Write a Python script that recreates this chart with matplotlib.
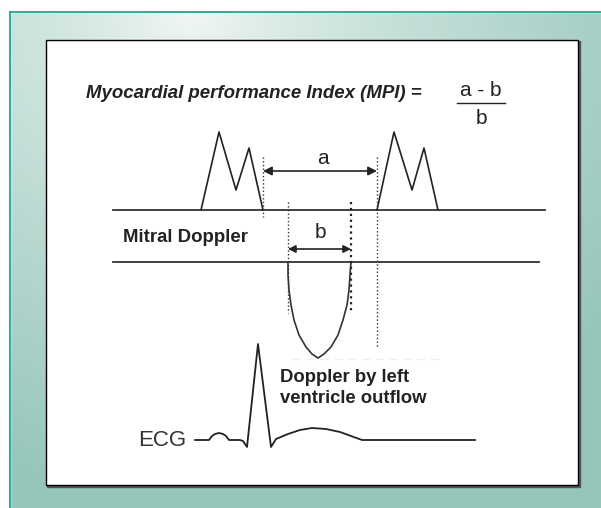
import numpy as np
import matplotlib.pyplot as plt
from matplotlib.patches import Rectangle

plt.rcParams['font.family'] = ['Liberation Sans', 'DejaVu Sans']

# Diagram geometry (pixel units of a 601 x 508 picture, y downwards)
mitral_base_y = 210
outflow_base_y = 262

# Mitral inflow E/A waves (left and right cycles)
mitral_left_x = [201, 219, 236, 249, 263]
mitral_right_x = [377, 394, 412, 424, 438]
mitral_y = [210, 132, 190, 148, 210]

# Left ventricle outflow curve
outflow_x = [288, 288, 289, 291, 294, 299, 306, 312, 318,
             324, 331, 338, 343, 347, 349, 350, 351]
outflow_y = [262, 275, 290, 305, 320, 335, 347, 354, 358,
             354, 347, 335, 320, 305, 290, 275, 262]

# ECG trace
ecg_x = [195, 209, 212, 215, 219, 223, 226, 229, 240, 243, 247, 258, 271,
         276, 288, 300, 312, 326, 340, 362, 475]
ecg_y = [440, 440, 436, 434, 433, 434, 436, 440, 440, 441, 447, 344, 447,
         439, 434, 430, 428, 429, 432, 440, 440]

# interval markers
a_start, a_end, a_y = 263, 377, 171
b_start, b_end, b_y = 288, 351, 249

fig = plt.figure(figsize=(6.01, 5.08), dpi=100)
ax = fig.add_axes([0, 0, 1, 1])
ax.set_xlim(0, 601)
ax.set_ylim(508, 0)
ax.axis('off')

# gradient background
W, H = 601, 508
xx, yy = np.meshgrid(np.linspace(0, W, 200), np.linspace(0, H, 170))
d = np.sqrt((xx - 190) ** 2 + ((yy - 10) * 1.1) ** 2)
t = np.clip(d / 540, 0, 1) ** 0.75
c0 = np.array([244, 248, 247]) / 255
c1 = np.array([150, 198, 186]) / 255
img = c0[None, None, :] * (1 - t[..., None]) + c1[None, None, :] * t[..., None]
left = np.clip(1 - xx / 120, 0, 1)[..., None] * np.clip(1 - yy / 200, 0, 1)[..., None]
img = img * (1 - 0.25 * left) + (np.array([205, 228, 224]) / 255) * 0.25 * left
ax.imshow(img, extent=(0, W, H, 0), aspect='auto', zorder=0)

ax.add_patch(Rectangle((0, 0), 601, 12, color='white', zorder=1))
ax.add_patch(Rectangle((0, 0), 10, 508, color='white', zorder=1))
ax.plot([10, 601], [12, 12], color='#23a48c', lw=1.3, zorder=2)
ax.plot([10, 10], [12, 508], color='#23a48c', lw=1.3, zorder=2)

# inner panel with shadow
ax.add_patch(Rectangle((47, 41), 533, 446, color='#555555', zorder=2))
ax.add_patch(Rectangle((46, 40), 532, 445, facecolor='white',
                       edgecolor='black', lw=1.0, zorder=3))

lc = '#222222'
# baselines
ax.plot([113, 545], [mitral_base_y, mitral_base_y], color='#333333', lw=1.3, zorder=4)
ax.plot([113, 539], [outflow_base_y, outflow_base_y], color='#333333', lw=1.3, zorder=4)

# mitral waves
ax.plot(mitral_left_x, mitral_y, color=lc, lw=1.2, zorder=5)
ax.plot(mitral_right_x, mitral_y, color=lc, lw=1.2, zorder=5)

# outflow
ax.plot(outflow_x, outflow_y, color='#333333', lw=1.2, zorder=5)
ax.plot([292, 443], [359, 359], color='#f0f0f0', lw=1.0, ls=(0, (6, 4)), zorder=4)

# dotted markers
ax.plot([a_start, a_start], [157, 217], color='#333333', lw=1.0, ls=':', zorder=5)
ax.plot([a_end, a_end], [157, 347], color='#333333', lw=1.0, ls=':', zorder=5)
ax.plot([b_start, b_start], [202, 313], color='#333333', lw=1.0, ls=':', zorder=5)
ax.plot([b_end, b_end], [202, 313], color='#222222', lw=1.6, ls=':', zorder=5)

# arrows
ax.annotate('', xy=(a_end, a_y), xytext=(a_start, a_y),
            arrowprops=dict(arrowstyle='<|-|>', color=lc, lw=1.2,
                            mutation_scale=13, shrinkA=0, shrinkB=0), zorder=6)
ax.annotate('', xy=(b_end, b_y), xytext=(b_start, b_y),
            arrowprops=dict(arrowstyle='<|-|>', color=lc, lw=1.2,
                            mutation_scale=11, shrinkA=0, shrinkB=0), zorder=6)
ax.text(323, 159, 'a', fontsize=15, ha='center', va='center', color=lc, zorder=6)
ax.text(320, 232, 'b', fontsize=15, ha='center', va='center', color=lc, zorder=6)

# ECG
ax.plot(ecg_x, ecg_y, color=lc, lw=1.3, zorder=5)
ax.text(186, 440, 'ECG', fontsize=16, ha='right', va='center', color='#333333', zorder=6)

# labels
ax.text(123, 237, 'Mitral Doppler', fontsize=13.4, fontweight='bold',
        ha='left', va='center', color=lc, zorder=6)
ax.text(280, 388, 'Doppler by left\nventricle outflow', fontsize=13.3,
        fontweight='bold', ha='left', va='center', color=lc,
        linespacing=1.35, zorder=6)

# title and formula
ax.text(86, 93, 'Myocardial performance Index (MPI) =', fontsize=13.4,
        fontweight='bold', fontstyle='italic', ha='left', va='center',
        color=lc, zorder=6)
ax.text(481, 91, 'a - b', fontsize=15, ha='center', va='center', color=lc, zorder=6)
ax.plot([457, 505], [103, 103], color=lc, lw=1.0, zorder=6)
ax.text(481, 118, 'b', fontsize=15, ha='center', va='center', color=lc, zorder=6)

fig.savefig('out.png', dpi=100)
